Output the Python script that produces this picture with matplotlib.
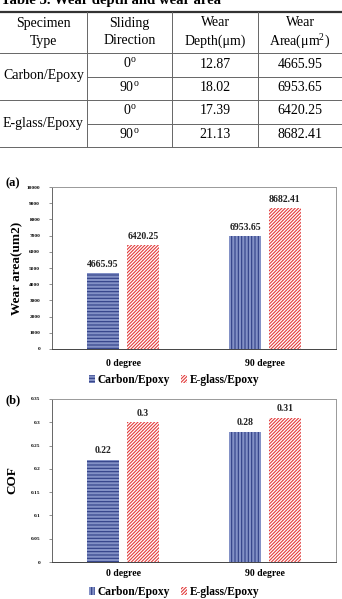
import numpy as np
import matplotlib
matplotlib.use('Agg')
import matplotlib.pyplot as plt
from matplotlib.patches import Patch
from matplotlib.ticker import FuncFormatter

# data
specimens = ['Carbon/Epoxy', 'E-glass/Epoxy']
directions = ['0', '90']
categories = ['0 degree', '90 degree']
carbon_depth = [12.87, 18.02]
eglass_depth = [17.39, 21.13]
carbon_area = [4665.95, 6953.65]
eglass_area = [6420.25, 8682.41]
carbon_cof = [0.22, 0.28]
eglass_cof = [0.30, 0.31]

plt.rcParams['font.family'] = ['Liberation Serif', 'DejaVu Serif']
plt.rcParams['mathtext.fontset'] = 'custom'
plt.rcParams['mathtext.rm'] = 'Liberation Serif'
plt.rcParams['hatch.linewidth'] = 0.8

W, H = 342, 599
fig = plt.figure(figsize=(W / 100, H / 100), dpi=100)

# ---------- table (pixel coordinates) ----------
tab = fig.add_axes([0, 0, 1, 1])
tab.set_xlim(0, W)
tab.set_ylim(H, 0)
tab.axis('off')

tab.text(1, 4, 'Table 5. Wear depth and wear area', fontsize=10.6,
         fontweight='bold', va='baseline')
tab.plot([0, W], [11.5, 11.5], color='#333333', lw=1.6)
for y, x0 in [(53, 0), (77, 87), (100, 0), (124, 87), (147, 0)]:
    tab.plot([x0, W], [y, y], color='#666666', lw=0.7)
for x in [87, 172, 258]:
    tab.plot([x, x], [12, 147], color='#666666', lw=0.7)

col_x = [43.5, 129.5, 215, 300]
headers = [('Specimen', 'Type'), ('Sliding', 'Direction'),
           ('Wear', 'Depth(μm)'), ('Wear', 'Area(μm$^{2}$)')]
for cx, (l1, l2) in zip(col_x, headers):
    tab.text(cx, 23, l1, fontsize=10, ha='center', va='center')
    tab.text(cx, 41, l2, fontsize=10, ha='center', va='center')

depth = [carbon_depth, eglass_depth]
area = [carbon_area, eglass_area]
for i, sp in enumerate(specimens):
    tab.text(col_x[0], 76 + 47 * i, sp, fontsize=10, ha='center', va='center')
    for j, d in enumerate(directions):
        y = 64 + 47 * i + 23.5 * j
        tab.text(col_x[1], y, d + r'$^{\mathrm{o}}$', fontsize=10, ha='center', va='center')
        tab.text(col_x[2], y, f'{depth[i][j]:.2f}', fontsize=10, ha='center', va='center')
        tab.text(col_x[3], y, f'{area[i][j]:.2f}', fontsize=10, ha='center', va='center')

# ---------- bar charts ----------
blue_face = '#8391c6'
blue_line = '#2f3f86'
red_line = '#e23c3c'
red_hatch = '//////////'
x = np.arange(len(categories))
off = 0.14
width = 0.225


def panel(rect, carbon, eglass, ymax, ystep, ylabel, lab_x, xpad, legend_hatch, legend_y, tag, tag_y):
    ax = fig.add_axes([rect[0] / W, 1 - rect[3] / H, (rect[2] - rect[0]) / W, (rect[3] - rect[1]) / H])
    cb = ax.bar(x - off, carbon, width, color=blue_face, edgecolor=blue_line, lw=0)
    for p, h in zip(cb, ['-----', '|||||']):
        p.set_hatch(h)
    eb = ax.bar(x + off, eglass, width, color='white', edgecolor=red_line, lw=0, hatch=red_hatch)
    for bars in (cb, eb):
        ax.bar_label(bars, labels=[f'{v:g}' for v in bars.datavalues], padding=3,
                     fontsize=7, fontweight='bold', color='#222222')
    ax.set_xlim(-0.5, 1.5)
    ax.set_ylim(0, ymax)
    ax.set_yticks(np.arange(0, ymax + ystep / 2, ystep))
    ax.yaxis.set_major_formatter(FuncFormatter(lambda v, _: f'{round(v, 2):g}'))
    ax.set_xticks(x)
    ax.set_xticklabels(categories, fontsize=7, fontweight='bold')
    ax.tick_params(axis='x', length=0, pad=xpad)
    ax.tick_params(axis='y', labelsize=3.8, length=2.5, width=0.5, color='#666666', pad=6)
    for t in ax.get_yticklabels():
        t.set_fontweight('bold')
    for s in ax.spines.values():
        s.set_color('#999999')
        s.set_linewidth(0.7)
    ax.spines['bottom'].set_color('#444444')
    ax.spines['left'].set_color('#666666')
    ax.set_ylabel(ylabel, fontsize=9.5, fontweight='bold')
    ax.yaxis.set_label_coords(lab_x, 0.5)
    handles = [Patch(facecolor=blue_face, edgecolor=blue_line, lw=0, hatch=legend_hatch),
               Patch(facecolor='white', edgecolor=red_line, lw=0, hatch=red_hatch)]
    fig.legend(handles, specimens, loc='center', bbox_to_anchor=(174 / W, 1 - legend_y / H),
               ncol=2, frameon=False, prop={'weight': 'bold', 'size': 8.3},
               handlelength=0.55, handleheight=0.6, handletextpad=0.2, columnspacing=1.0)
    fig.text(5 / W, 1 - tag_y / H, tag, fontsize=9, fontweight='bold', va='center')
    return ax


panel((52, 187, 336, 349), carbon_area, eglass_area, 10000, 1000, 'Wear area(um2)',
      -0.10, 7, '-----', 380, '(a)', 183)
panel((52, 399, 336, 562), carbon_cof, eglass_cof, 0.35, 0.05, 'COF',
      -0.12, 5, '|||||', 592, '(b)', 400)

fig.savefig('out.png', dpi=100)
